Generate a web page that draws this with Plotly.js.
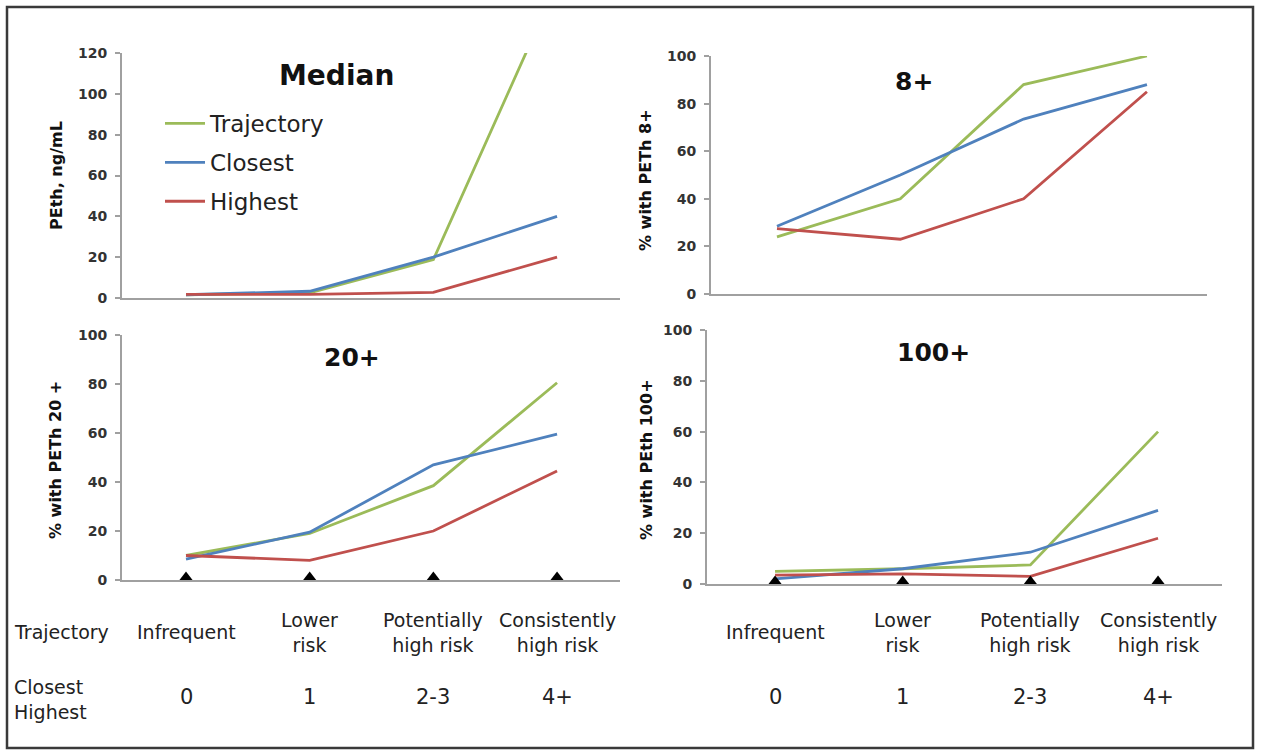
<!DOCTYPE html>
<html>
<head>
<meta charset="utf-8">
<script src="https://cdn.plot.ly/plotly-3.0.1.min.js"></script>
<style>html,body{margin:0;padding:0;background:#fff;}#chart{width:1265px;height:751px;}</style>
</head>
<body>
<div id="chart"></div>
<script>
// ---- data ----
var categories = ['Infrequent', 'Lower risk', 'Potentially high risk', 'Consistently high risk'];
var trajectoryLabels = ['Infrequent', 'Lower<br>risk', 'Potentially<br>high risk', 'Consistently<br>high risk'];
var countLabels = ['0', '1', '2-3', '4+'];
var seriesNames = ['Trajectory', 'Closest', 'Highest'];
var panelTitles = ['Median', '8+', '20+', '100+'];
var yTitles = ['PEth, ng/mL', '% with PETh 8+', '% with PETh 20 +', '% with PEth 100+'];

var trajMedian = [1.6, 2.5, 18.8, 154];
var closMedian = [1.6, 3.3, 20, 40];
var highMedian = [1.8, 1.8, 2.8, 20];

var traj8 = [24, 40, 88, 100];
var clos8 = [28.5, 50, 73.5, 88];
var high8 = [27.5, 23, 40, 85];

var traj20 = [10, 19, 38.5, 80.5];
var clos20 = [8.5, 19.5, 47, 59.5];
var high20 = [10, 8, 20, 44.5];

var traj100 = [5, 6, 7.5, 60];
var clos100 = [2, 6, 12.5, 29];
var high100 = [3.5, 4, 3, 18];

// ---- layout helpers ----
var W = 1265, H = 751;
function px(p) { return p / W; }
function py(p) { return 1 - p / H; }

var colors = ['#9BBB59', '#4F81BD', '#C0504D'];
var groups = ['traj', 'clos', 'high'];
var panels = [
  {xa: 'x', ya: 'y', vals: [trajMedian, closMedian, highMedian]},
  {xa: 'x2', ya: 'y2', vals: [traj8, clos8, high8]},
  {xa: 'x3', ya: 'y3', vals: [traj20, clos20, high20]},
  {xa: 'x4', ya: 'y4', vals: [traj100, clos100, high100]}
];

var data = [];
panels.forEach(function (p, pi) {
  p.vals.forEach(function (v, si) {
    data.push({
      type: 'scatter', mode: 'lines', x: categories, y: v,
      xaxis: p.xa, yaxis: p.ya, name: seriesNames[si],
      legendgroup: groups[si], showlegend: pi === 0,
      line: {color: colors[si], width: 2.8},
      hoverinfo: 'name+y'
    });
  });
});
// triangle markers on bottom panels
['x3', 'x4'].forEach(function (xa, i) {
  data.push({
    type: 'scatter', mode: 'markers', x: categories, y: categories.map(function () { return 1; }),
    xaxis: xa, yaxis: i === 0 ? 'y3' : 'y4', showlegend: false, hoverinfo: 'skip',
    cliponaxis: false,
    marker: {symbol: 'triangle-up', size: 12, color: '#000'}
  });
});

var tickFont = {family: 'DejaVu Sans', size: 14, color: '#333', weight: 'bold'};
function xax(d0, d1, r0, r1) {
  return {domain: [px(d0), px(d1)], range: [r0, r1], type: 'category', showgrid: false, zeroline: false,
          showline: true, linecolor: '#a0a0a0', linewidth: 2, ticks: '', showticklabels: false, fixedrange: true};
}
function yax(d0, d1, rmax, anchor) {
  return {domain: [py(d1), py(d0)], range: [0, rmax], dtick: 20, showgrid: false, zeroline: false,
          showline: true, linecolor: '#a0a0a0', linewidth: 2, ticks: 'outside', ticklen: 5,
          tickcolor: '#a0a0a0', tickwidth: 1.5, tickfont: tickFont, anchor: anchor, fixedrange: true,
          ticklabelstandoff: 5};
}

var layout = {
  width: W, height: H,
  margin: {l: 0, r: 0, t: 0, b: 0},
  paper_bgcolor: '#fff', plot_bgcolor: 'rgba(0,0,0,0)',
  font: {family: 'DejaVu Sans', color: '#222'},
  showlegend: true,
  legend: {
    x: px(160), y: py(102), xanchor: 'left', yanchor: 'top',
    bgcolor: 'rgba(0,0,0,0)', font: {family: 'DejaVu Sans', size: 23, color: '#222'},
    traceorder: 'grouped', tracegroupgap: 6, itemwidth: 40
  },
  xaxis: Object.assign(xax(122, 620, -0.5175, 3.509), {anchor: 'y'}),
  yaxis: yax(53, 298, 120, 'x'),
  xaxis2: Object.assign(xax(711, 1207, -0.535, 3.487), {anchor: 'y2'}),
  yaxis2: yax(56, 294, 100, 'x2'),
  xaxis3: Object.assign(xax(122, 620, -0.5175, 3.509), {anchor: 'y3'}),
  yaxis3: yax(335, 580, 100, 'x3'),
  xaxis4: Object.assign(xax(707, 1222, -0.533, 3.501), {anchor: 'y4'}),
  yaxis4: yax(330, 584, 100, 'x4'),
  shapes: [{
    type: 'rect', xref: 'paper', yref: 'paper',
    x0: px(7), x1: px(1253), y0: py(748), y1: py(7),
    line: {color: '#3a3a3a', width: 2.5}, fillcolor: 'rgba(0,0,0,0)'
  }],
  annotations: []
};

// panel titles
var titlePos = [[336, 75, 28], [914, 81, 25], [352, 357, 25], [933, 353, 25]];
panelTitles.forEach(function (t, i) {
  layout.annotations.push({
    text: t, xref: 'paper', yref: 'paper', x: px(titlePos[i][0]), y: py(titlePos[i][1]),
    xanchor: 'center', yanchor: 'middle', showarrow: false,
    font: {family: 'DejaVu Sans', size: titlePos[i][2], color: '#111', weight: 'bold'}
  });
});
// y-axis titles
var yTitlePos = [[56, 176], [646, 180], [55, 460], [646, 460]];
yTitles.forEach(function (t, i) {
  layout.annotations.push({
    text: t, xref: 'paper', yref: 'paper', x: px(yTitlePos[i][0]), y: py(yTitlePos[i][1]),
    xanchor: 'center', yanchor: 'middle', showarrow: false, textangle: -90,
    font: {family: 'DejaVu Sans', size: 16, color: '#111', weight: 'bold'}
  });
});
// row headers
var labFont = {family: 'DejaVu Sans', size: 19, color: '#222'};
layout.annotations.push({text: 'Trajectory', xref: 'paper', yref: 'paper', x: px(12), y: py(632),
  xanchor: 'left', yanchor: 'middle', showarrow: false, font: labFont});
layout.annotations.push({text: 'Closest<br>Highest', xref: 'paper', yref: 'paper', x: px(12), y: py(699),
  xanchor: 'left', yanchor: 'middle', showarrow: false, font: labFont, align: 'left'});
// category labels under bottom panels
['x3', 'x4'].forEach(function (xa) {
  trajectoryLabels.forEach(function (t, i) {
    layout.annotations.push({text: t, xref: xa, yref: 'paper', x: i, y: py(632),
      xanchor: 'center', yanchor: 'middle', showarrow: false, font: labFont, align: 'center'});
  });
  countLabels.forEach(function (t, i) {
    layout.annotations.push({text: t, xref: xa, yref: 'paper', x: i, y: py(697),
      xanchor: 'center', yanchor: 'middle', showarrow: false, font: {family: 'DejaVu Sans', size: 21, color: '#222'}});
  });
});

Plotly.newPlot('chart', data, layout, {displayModeBar: false});
</script>
</body>
</html>
